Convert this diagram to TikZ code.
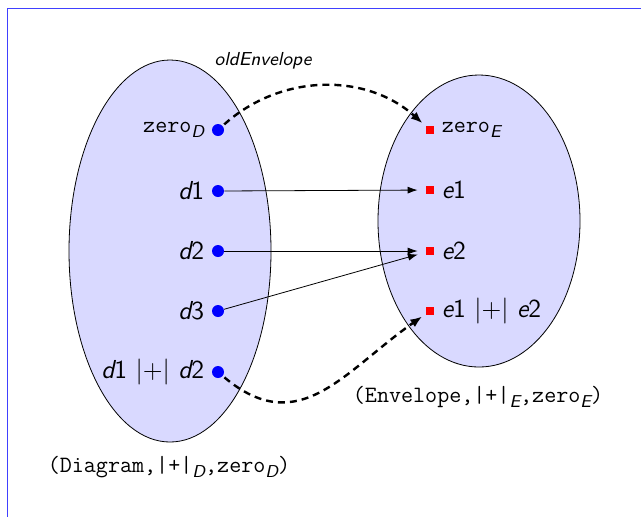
\documentclass[tikz,border=0pt]{standalone}
\usepackage{fontspec}
\usetikzlibrary{arrows.meta,positioning}
\renewcommand{\familydefault}{\sfdefault}
\newcommand{\mv}[1]{{\itshape #1}}
\newcommand{\sub}[1]{\raisebox{-0.45ex}{\fontsize{8.6}{9}\selectfont\sffamily\itshape #1}}

\begin{document}
\begin{tikzpicture}[
    x=0.5pt, y=-0.5pt,
    % --- STYLES ---
    carrier/.style={
        draw=black, fill=blue!15, thin
    },
    delem/.style={circle, fill=blue, minimum size=6pt, inner sep=0pt},
    eelem/.style={rectangle, fill=red, minimum size=4pt, inner sep=0pt},
    lbl/.style={inner sep=3.5pt, font=\fontsize{13}{15}\selectfont},
    ttlbl/.style={inner sep=3.5pt, font=\fontsize{11.7}{14}\selectfont},
    hom/.style={->, >={Latex[length=5pt,width=3.5pt]}, thin, shorten >=4pt},
    envmap/.style={->, >={Latex[length=6pt,width=4.5pt]}, line width=1.2pt,
        dash pattern=on 3.5pt off 2.5pt, shorten >=2pt, shorten <=1pt}
]
\useasboundingbox (0,0) rectangle (641,516);

% ===== 1. FRAME & CARRIERS =====
\draw[blue!75, thin] (7,540) |- (660,8);

\draw[carrier] (170,251) ellipse [x radius=101, y radius=191];
\draw[carrier] (479,221) ellipse [x radius=101, y radius=146];

% ===== 2. DIAGRAM ELEMENTS =====
\node[delem, label={[ttlbl]left:\texttt{zero}\sub{D}}] (d0) at (218,130) {};
\node[delem, label={[lbl]left:\mv{d}1}] (d1) at (218,191) {};
\node[delem, label={[lbl]left:\mv{d}2}] (d2) at (218,251) {};
\node[delem, label={[lbl]left:\mv{d}3}] (d3) at (218,311) {};
\node[delem, label={[lbl]left:\mv{d}1 |+| \mv{d}2}] (d12) at (218,372) {};

% ===== 3. ENVELOPE ELEMENTS =====
\node[eelem, label={[ttlbl]right:\texttt{zero}\sub{E}}] (e0) at (430,130) {};
\node[eelem, label={[lbl]right:\mv{e}1}] (e1) at (430,190) {};
\node[eelem, label={[lbl]right:\mv{e}2}] (e2) at (430,251) {};
\node[eelem, label={[lbl]right:\mv{e}1 |+| \mv{e}2}] (e12) at (430,311) {};

% ===== 4. CAPTIONS =====
\node[font=\fontsize{9.4}{11}\selectfont\itshape] (title) at (263,61) {oldEnvelope};
\node[font=\fontsize{11.7}{14}\selectfont] (dcap) at (169,467)
    {\texttt{(Diagram,|+|}\sub{D}\texttt{,zero}\sub{D}\texttt{)}};
\node[font=\fontsize{11.7}{14}\selectfont] (ecap) at (478,397)
    {\texttt{(Envelope,|+|}\sub{E}\texttt{,zero}\sub{E}\texttt{)}};

% ===== 5. CONNECTIONS =====
\draw[hom] (d1) -- (e1);
\draw[hom] (d2) -- (e2);
\draw[hom] (d3) -- (e2);

\draw[envmap] (d0) to[bend left=42] (e0);
\draw[envmap] (d12) to[out=-40, in=-145, looseness=1.2] (e12);

\end{tikzpicture}
\end{document}
